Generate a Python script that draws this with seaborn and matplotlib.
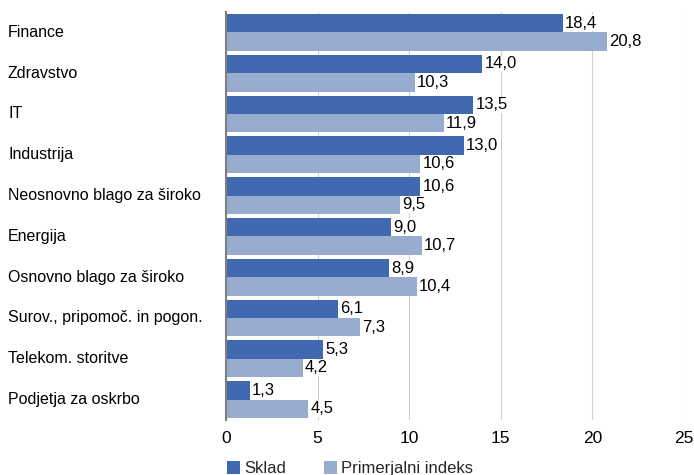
import pandas as pd
import matplotlib.pyplot as plt
import matplotlib.transforms as mtransforms
import seaborn as sns

# --- data ---
sectors = ['Finance', 'Zdravstvo', 'IT', 'Industrija', 'Neosnovno blago za široko',
           'Energija', 'Osnovno blago za široko', 'Surov., pripomoč. in pogon.',
           'Telekom. storitve', 'Podjetja za oskrbo']
sklad = [18.4, 14.0, 13.5, 13.0, 10.6, 9.0, 8.9, 6.1, 5.3, 1.3]
indeks = [20.8, 10.3, 11.9, 10.6, 9.5, 10.7, 10.4, 7.3, 4.2, 4.5]
series = ['Sklad', 'Primerjalni indeks']
ticks = [0, 5, 10, 15, 20, 25]

df = pd.DataFrame({
    'sektor': sectors * 2,
    'delez': sklad + indeks,
    'serija': [series[0]] * len(sectors) + [series[1]] * len(sectors),
})

sns.set_theme(style="white")
plt.rcParams['font.family'] = ['Liberation Sans', 'DejaVu Sans']

fig = plt.figure(figsize=(6.94, 4.75), dpi=100)
ax = fig.add_axes([0.3256, 0.1158, 0.66, 0.859])

ax = sns.barplot(
    data=df, x='delez', y='sektor', hue='serija', orient='h',
    palette=['#4169b2', '#97acce'], saturation=1, width=0.9,
    linewidth=0, ax=ax, zorder=2,
)

ax.set_xlim(0, 25)
ax.set_xticks(ticks)
ax.set_xticklabels([str(t) for t in ticks], fontsize=12.5, color='black')
ax.set_xlabel('')
ax.set_ylabel('')
ax.grid(axis='x', color='#d0d0d0', linewidth=0.8, zorder=0)
ax.set_axisbelow(True)
ax.tick_params(axis='x', length=0, pad=8)

for s in ['top', 'right', 'bottom']:
    ax.spines[s].set_visible(False)
ax.spines['left'].set_color('#7f7f7f')
ax.spines['left'].set_linewidth(1.5)

# category labels left aligned at the figure edge
ax.set_yticks(range(len(sectors)))
ax.set_yticklabels([])
ax.tick_params(axis='y', length=0)
trans = mtransforms.blended_transform_factory(fig.transFigure, ax.transData)
for i, name in enumerate(sectors):
    ax.text(8 / 694, i, name, transform=trans, ha='left', va='center',
            fontsize=11.5, color='black')

for container in ax.containers:
    labels = [f'{v:.1f}'.replace('.', ',') for v in container.datavalues]
    ax.bar_label(container, labels=labels, padding=1.5, fontsize=12, color='black',
                 bbox=dict(facecolor='white', edgecolor='none', pad=0.5))

ax.legend(loc='upper left', bbox_to_anchor=(-0.012, -0.085), ncol=2, frameon=False,
          fontsize=12, handlelength=0.75, handleheight=0.75, handletextpad=0.25,
          columnspacing=2.3, borderaxespad=0)

fig.savefig('out.png', dpi=100)
